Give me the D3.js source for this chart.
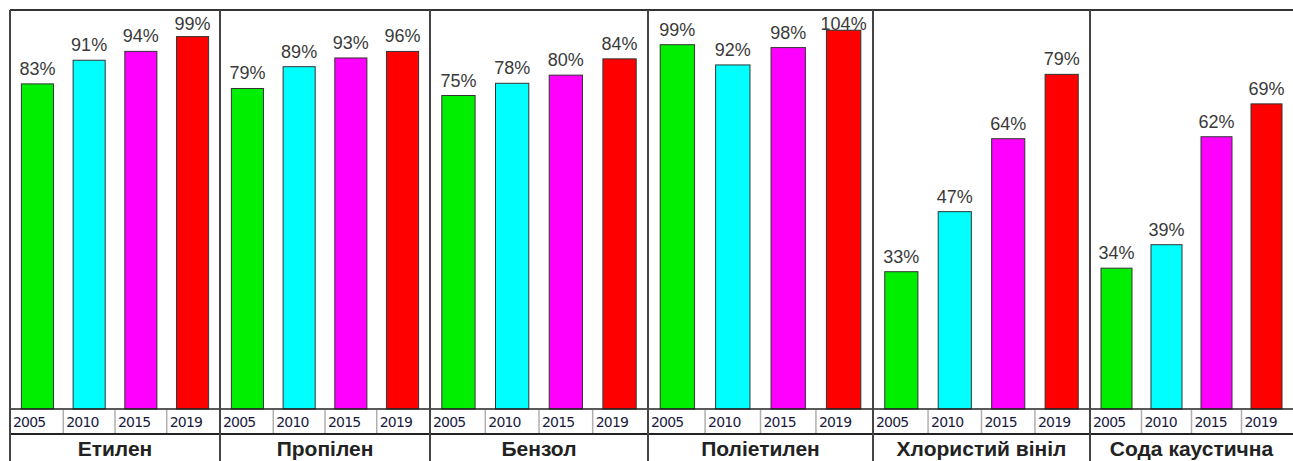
<!DOCTYPE html>
<html>
<head>
<meta charset="utf-8">
<title>Виробництво по роках</title>
<script src="https://d3js.org/d3.v7.min.js"></script>
<style>
body { margin: 0; background: #fff; }
svg { display: block; }
.pct { font-family: "Liberation Sans", Arial, sans-serif; font-size: 18px; fill: #3a3a3a; }
.yr { font-family: "DejaVu Sans", Tahoma, sans-serif; font-size: 14px; fill: #1a1a40; letter-spacing: -0.8px; }
.cat { font-family: "Liberation Sans", Arial, sans-serif; font-size: 21px; font-weight: bold; fill: #222; }
</style>
</head>
<body>
<svg id="chart"></svg>
<script>
// data
var products = ["Етилен", "Пропілен", "Бензол", "Поліетилен", "Хлористий вініл", "Сода каустична"];
var years = ["2005", "2010", "2015", "2019"];
var etylen     = [83, 91, 94, 99];
var propylen   = [79, 89, 93, 96];
var benzol     = [75, 78, 80, 84];
var polietylen = [99, 92, 98, 104];
var vinyl      = [33, 47, 64, 79];
var soda       = [34, 39, 62, 69];
var series = [etylen, propylen, benzol, polietylen, vinyl, soda];
// each panel was its own little chart with a hidden axis of its own
var scaleMin = [-27, -68, -2, -27, 1, 4];
var scaleMax = [108, 115, 96, 111, 94, 89];
var yearColors = ["#00ee00", "#00ffff", "#ff00ff", "#ff0000"];

var width = 1293, height = 461;
var topY = 10, plotBottom = 409, yearBottom = 434;
var edges = [10, 220, 430, 648, 873, 1090, 1293];

var svg = d3.select("#chart").attr("width", width).attr("height", height);

var panelX = d3.scaleOrdinal().domain(products).range(edges.slice(0, -1));
var panelEnd = d3.scaleOrdinal().domain(products).range(edges.slice(1));

products.forEach(function (p, i) {
    var x0 = panelX(p), x1 = panelEnd(p);
    var x = d3.scaleBand().domain(years).range([x0, x1]).paddingInner(0.38).paddingOuter(0.22);
    var y = d3.scaleLinear().domain([scaleMin[i], scaleMax[i]]).range([plotBottom, topY]);
    var g = svg.append("g");
    var vals = series[i];

    g.selectAll("rect.bar").data(vals).enter().append("rect")
        .attr("class", "bar")
        .attr("x", function (d, j) { return x(years[j]); })
        .attr("y", function (d) { return y(d); })
        .attr("width", x.bandwidth())
        .attr("height", function (d) { return plotBottom - y(d); })
        .attr("fill", function (d, j) { return yearColors[j]; })
        .attr("stroke", "#333")
        .attr("stroke-width", 1);

    g.selectAll("text.pct").data(vals).enter().append("text")
        .attr("class", "pct")
        .attr("x", function (d, j) { return x(years[j]) + x.bandwidth() / 2; })
        .attr("y", function (d) { return Math.max(y(d) - 9, 30); })
        .attr("text-anchor", "middle")
        .text(function (d) { return d + "%"; });

    // year cells: separators half way between bars, labels sit at the cell's left
    var gap = x.step() - x.bandwidth();
    years.forEach(function (yr, j) {
        var cellLeft = j === 0 ? x0 : x(yr) - gap / 2;
        if (j > 0) {
            g.append("line")
                .attr("x1", cellLeft).attr("x2", cellLeft)
                .attr("y1", plotBottom + 1).attr("y2", yearBottom)
                .attr("stroke", "#b0b0b0").attr("stroke-width", 1.5);
        }
        g.append("text")
            .attr("class", "yr")
            .attr("x", cellLeft + 3)
            .attr("y", plotBottom + 18)
            .text(yr);
    });

    g.append("text")
        .attr("class", "cat")
        .attr("x", (x0 + x1) / 2)
        .attr("y", 456)
        .attr("text-anchor", "middle")
        .text(p);
});

// frame lines
svg.append("line").attr("x1", edges[0]).attr("x2", width).attr("y1", topY).attr("y2", topY)
    .attr("stroke", "#333").attr("stroke-width", 2);
svg.append("line").attr("x1", edges[0]).attr("x2", width).attr("y1", plotBottom).attr("y2", plotBottom)
    .attr("stroke", "#222").attr("stroke-width", 1.5);
svg.append("line").attr("x1", edges[0]).attr("x2", width).attr("y1", yearBottom).attr("y2", yearBottom)
    .attr("stroke", "#222").attr("stroke-width", 2);
svg.selectAll("line.div").data(edges.slice(0, -1)).enter().append("line")
    .attr("class", "div")
    .attr("x1", function (d) { return d; }).attr("x2", function (d) { return d; })
    .attr("y1", topY).attr("y2", height)
    .attr("stroke", "#444").attr("stroke-width", 2);
</script>
</body>
</html>
